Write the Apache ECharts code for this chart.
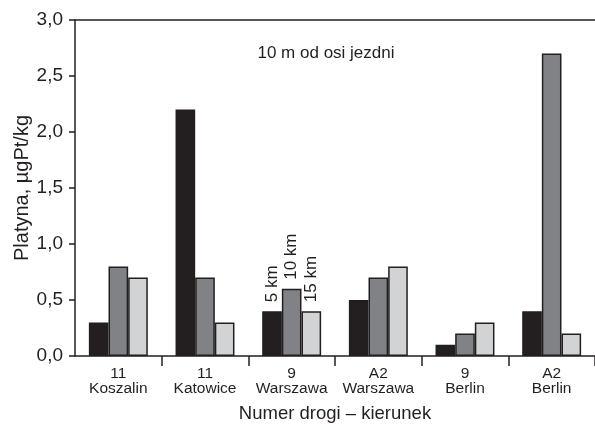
<!DOCTYPE html>
<html><head><meta charset="utf-8">
<script src="https://cdn.jsdelivr.net/npm/echarts@6/dist/echarts.min.js"></script>
<style>html,body{margin:0;padding:0;background:#fff}#c{width:595px;height:424px}</style>
</head><body><div id="c"></div>
<script>
const categories = ['11\nKoszalin', '11\nKatowice', '9\nWarszawa', 'A2\nWarszawa', '9\nBerlin', 'A2\nBerlin'];
const seriesNames = ['5 km', '10 km', '15 km'];
const values5km = [0.3, 2.2, 0.4, 0.5, 0.1, 0.4];
const values10km = [0.8, 0.7, 0.6, 0.7, 0.2, 2.7];
const values15km = [0.7, 0.3, 0.4, 0.8, 0.3, 0.2];
const yTicks = [0, 0.5, 1.0, 1.5, 2.0, 2.5, 3.0];
const labelledCategory = 2;

const colors = ['#231f20', '#808285', '#d1d3d4'];
const ink = '#231f20';
const font = 'Liberation Sans, Arial, sans-serif';
const allValues = [values5km, values10km, values15km];

const chart = echarts.init(document.getElementById('c'), null, {renderer: 'canvas'});
chart.setOption({
  animation: false,
  backgroundColor: '#fff',
  title: {
    text: '10 m od osi jezdni', left: 321, top: 40, textAlign: 'center',
    textStyle: {fontFamily: font, fontSize: 17, fontWeight: 'normal', color: ink}
  },
  grid: {left: 75, right: 0, top: 20, bottom: 68, containLabel: false, outerBoundsMode: 'none'},
  xAxis: [{
    type: 'category', data: categories, position: 'bottom',
    axisLine: {lineStyle: {color: ink, width: 1.5}},
    axisTick: {show: true, length: 10, lineStyle: {color: ink, width: 1.5},
      interval: (i) => i !== 0},
    axisLabel: {fontFamily: font, fontSize: 15.5, color: ink, lineHeight: 15, margin: 10, interval: 0},
    name: 'Numer drogi – kierunek', nameLocation: 'middle', nameGap: 48, nameMoveOverlap: false,
    nameTextStyle: {fontFamily: font, fontSize: 18.5, color: ink}
  }, {
    type: 'category', data: categories, position: 'top',
    axisLine: {show: true, lineStyle: {color: ink, width: 1.5}},
    axisTick: {show: false}, axisLabel: {show: false}
  }],
  yAxis: {
    type: 'value', min: 0, max: 3, interval: 0.5,
    axisLine: {show: true, lineStyle: {color: ink, width: 1.5}},
    axisTick: {show: true, length: 6, lineStyle: {color: ink, width: 1.5}},
    splitLine: {show: false},
    axisLabel: {fontFamily: font, fontSize: 19, color: ink, margin: 12,
      formatter: v => yTicks.includes(v) ? v.toFixed(1).replace('.', ',') : ''},
    name: 'Platyna, µgPt/kg', nameLocation: 'middle', nameGap: 43, nameMoveOverlap: false,
    nameTextStyle: {fontFamily: font, fontSize: 20, color: ink}
  },
  series: seriesNames.map((name, i) => ({
    name: name, type: 'bar', xAxisIndex: 0,
    barGap: '0%', barCategoryGap: '32%',
    itemStyle: {color: colors[i], borderColor: ink, borderWidth: 1.5},
    data: allValues[i].map((v, j) => j === labelledCategory ? {
      value: v,
      label: {show: true, position: 'top', rotate: 90, align: 'left', verticalAlign: 'middle',
        distance: 9, formatter: name, fontFamily: font, fontSize: 17, color: ink}
    } : v)
  }))
});
</script></body></html>
